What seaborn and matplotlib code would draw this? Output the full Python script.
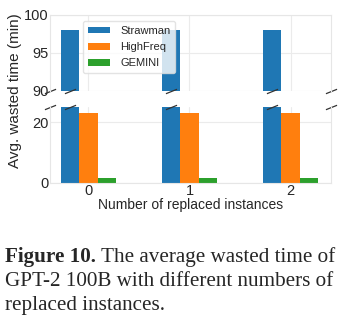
import matplotlib
matplotlib.use("Agg")
import matplotlib.pyplot as plt
import seaborn as sns
import pandas as pd

categories = ["0", "1", "2"]
methods = ["Strawman", "HighFreq", "GEMINI"]
strawman = [98.0, 98.0, 98.0]
highfreq = [23.0, 23.0, 23.0]
gemini = [1.6, 1.6, 1.6]
colors = ["#1f77b4", "#ff7f0e", "#2ca02c"]

rows = []
for m, vals in zip(methods, [strawman, highfreq, gemini]):
    for c, v in zip(categories, vals):
        rows.append({"n": c, "method": m, "value": v})
df = pd.DataFrame(rows)

sns.set_theme(style="whitegrid")
plt.rcParams["font.family"] = ["Liberation Sans", "DejaVu Sans"]

fig = plt.figure(figsize=(3.48, 3.27), dpi=100)
W, H = 348.0, 327.0
ax_top = fig.add_axes([50 / W, 1 - 91 / H, 281 / W, 76 / H])
ax_bot = fig.add_axes([50 / W, 1 - 183 / H, 281 / W, 76 / H])

for ax in (ax_top, ax_bot):
    sns.barplot(data=df, x="n", y="value", hue="method", hue_order=methods,
                palette=colors, width=0.54, gap=0, saturation=1,
                edgecolor="none", ax=ax, legend=(ax is ax_top))
    ax.set_xlim(-0.38, 2.4)
    ax.set_xlabel("")
    ax.set_ylabel("")
    for s in ax.spines.values():
        s.set_color("#e6e6e6")
        s.set_linewidth(0.8)
    ax.grid(True, color="#ebebeb", linewidth=0.8)
    ax.tick_params(labelsize=10.5, pad=1, length=0)

ax_top.set_ylim(90, 100)
ax_top.set_yticks([90, 95, 100])
ax_bot.set_ylim(0, 25)
ax_bot.set_yticks([0, 20])
ax_top.spines["bottom"].set_visible(False)
ax_bot.spines["top"].set_visible(False)
ax_top.tick_params(axis="x", labelbottom=False)
ax_bot.set_xticks([0, 1, 2])
ax_bot.set_xticklabels(categories)
ax_bot.set_xlabel("Number of replaced instances", fontsize=10, labelpad=0)
fig.text(15 / W, 1 - 91 / H, "Avg. wasted time (min)", rotation=90,
         fontsize=11, ha="center", va="center")

leg = ax_top.legend(loc="upper left", bbox_to_anchor=(0.117, 0.921), fontsize=8,
                    frameon=True, framealpha=0.8, handlelength=2.0,
                    handleheight=0.55, handletextpad=0.9,
                    borderpad=0.45, labelspacing=0.55, borderaxespad=0)
leg.get_frame().set_edgecolor("#dddddd")

# break marks
d = 0.4
kw = dict(marker=[(-1, -d), (1, d)], markersize=8, linestyle="none",
          color="#333333", mec="#333333", mew=0.9, clip_on=False)
ax_top.plot([0, 1], [0, 0], transform=ax_top.transAxes, **kw)
ax_bot.plot([0, 1], [1, 1], transform=ax_bot.transAxes, **kw)
xs = [p.get_x() + p.get_width() / 2 for p in ax_bot.patches[:3]]
ax_top.plot(xs, [90] * 3, **kw)
ax_bot.plot(xs, [25] * 3, **kw)

# caption
serif = ["Liberation Serif", "DejaVu Serif"]
fs = 15.2
t1 = fig.text(5 / W, 1 - 262 / H, "Figure 10.", fontsize=fs, fontweight="bold",
              family=serif, va="baseline")
fig.canvas.draw()
r = fig.canvas.get_renderer()
bb = t1.get_window_extent(r)
fig.text((bb.x1 + 5) / W, 1 - 262 / H, "The average wasted time of", fontsize=fs,
         family=serif, va="baseline")
fig.text(5 / W, 1 - 286 / H, "GPT-2 100B with different numbers of", fontsize=fs,
         family=serif, va="baseline")
fig.text(5 / W, 1 - 310 / H, "replaced instances.", fontsize=fs,
         family=serif, va="baseline")

fig.savefig("out.png", dpi=100)
